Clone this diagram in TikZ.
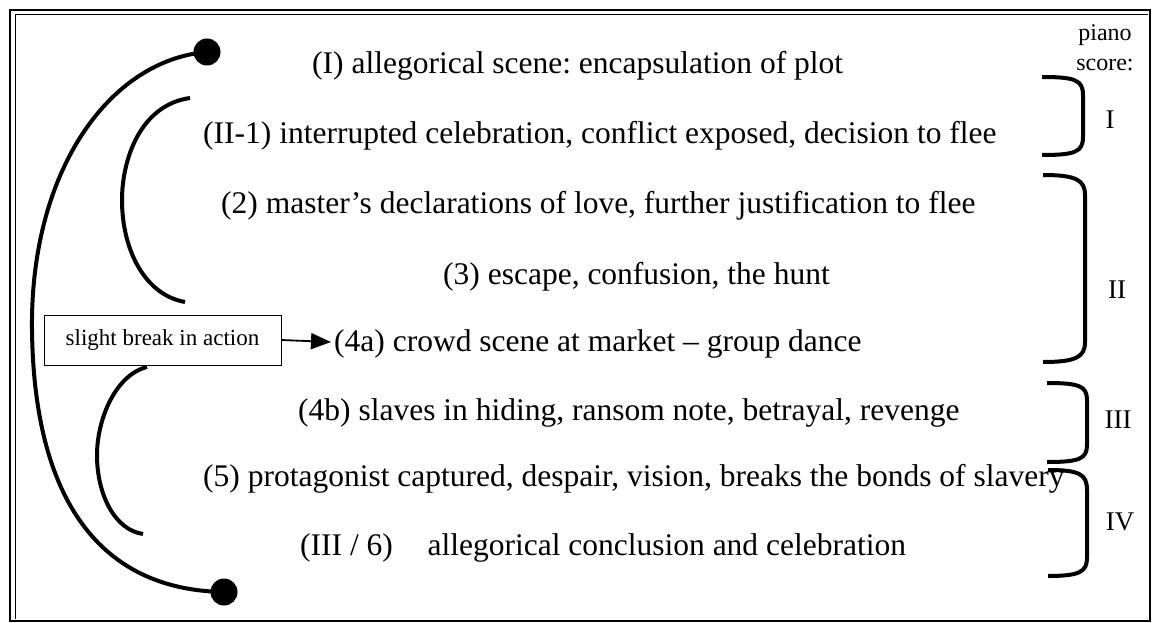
\documentclass[tikz,border=0pt]{standalone}
\usepackage{fontspec}
\setmainfont{Liberation Serif}
\usetikzlibrary{arrows.meta}
\frenchspacing
\begin{document}
\begin{tikzpicture}[x=1pt,y=-1pt,
  line/.style={font=\fontsize{31.5}{36}\selectfont, inner sep=0pt, anchor=base west},
  numeral/.style={font=\fontsize{27}{30}\selectfont, inner sep=0pt},
  arc/.style={line width=4pt},
  brace/.style={line width=4pt},
  dot/.style={circle, fill=black, minimum size=27pt, inner sep=0pt},
  breakbox/.style={draw, line width=0.9pt, minimum width=237pt, minimum height=50pt, inner sep=0pt, font=\fontsize{23}{26}\selectfont}
]
\useasboundingbox (0,0) rectangle (1154,623);
% frame
\draw[line width=1.4pt] (10,10) rectangle (1150,621);
\draw[line width=1pt] (15,619) -- (15,15) -- (1148,15);

% text lines
\node[line] (l1) at (312,74) {(I) allegorical scene: encapsulation of plot};
\node[line] (l2) at (203,144) {(II-1) interrupted celebration, conflict exposed, decision to flee};
\node[line] (l3) at (221,213) {(2) master’s declarations of love, further justification to flee};
\node[line] (l4) at (443,284) {(3) escape, confusion, the hunt};
\node[line] (l5) at (334,351) {(4a) crowd scene at market -- group dance};
\node[line] (l6) at (298,420) {(4b) slaves in hiding, ransom note, betrayal, revenge};
\node[line] (l7) at (203,486) {(5) protagonist captured, despair, vision, breaks the bonds of slavery};
\node[line] (l8) at (300,555) {(III / 6)\hspace{1.1em}allegorical conclusion and celebration};

% break box and arrow
\node[breakbox] (brk) at (162.5,340) {slight break in action};
\coordinate (a4) at (331,342);
\draw[line width=1.8pt, -{Triangle[length=20pt,width=16pt]}] (brk.east) -- (a4);

% dots and big arc
\node[dot] (d1) at (207,52) {};
\node[dot] (d2) at (224,592) {};
\draw[arc] (d1.center) .. controls (110,60) and (30,170) .. (32,330)
  .. controls (34,500) and (100,590) .. (d2.center);

% inner arcs
\draw[arc] (190,98) .. controls (140,105) and (122,160) .. (122,200)
  .. controls (122,250) and (145,295) .. (185,302);
\draw[arc] (147,367) .. controls (115,375) and (97,420) .. (97,455)
  .. controls (97,495) and (115,530) .. (143,534);

% braces
\draw[brace] (1042,77) .. controls (1075,77) and (1083,80) .. (1083,95) -- (1083,137) .. controls (1083,152) and (1075,155) .. (1042,155);
\draw[brace] (1043,175) .. controls (1076,175) and (1085,180) .. (1085,195) -- (1085,342) .. controls (1085,357) and (1076,362) .. (1043,362);
\draw[brace] (1047,383) .. controls (1079,383) and (1087,386) .. (1087,400) -- (1087,445) .. controls (1087,459) and (1079,462) .. (1047,462);
\draw[brace] (1048,470) .. controls (1079,470) and (1087,474) .. (1087,490) -- (1087,558) .. controls (1087,572) and (1079,576) .. (1048,576);

% labels
\node[font=\fontsize{24}{30}\selectfont, align=center, inner sep=0pt] (ps) at (1105,48) {piano\\score:};
\node[numeral] (n1) at (1110,120) {I};
\node[numeral] (n2) at (1117,290) {II};
\node[numeral] (n3) at (1118,420) {III};
\node[numeral] (n4) at (1120,522) {IV};
\end{tikzpicture}
\end{document}
